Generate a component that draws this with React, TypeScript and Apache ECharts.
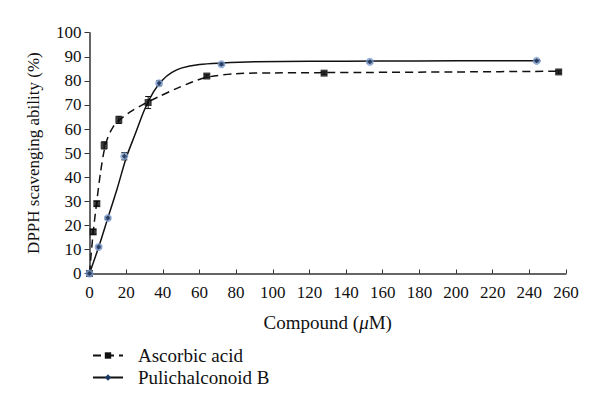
import React, { useEffect, useRef } from "react";
import * as echarts from "echarts";

const xTicks = [0, 20, 40, 60, 80, 100, 120, 140, 160, 180, 200, 220, 240, 260];

// measured points
const ascorbicX = [0, 2, 4, 8, 16, 32, 64, 128, 256];
const ascorbicY = [0, 17.3, 29, 53.2, 63.8, 71, 82, 83.2, 83.7];
const ascorbicErr = [0, 1, 1, 1.5, 1.5, 2.5, 0.5, 0.5, 0.5];

const puliX = [0, 5, 10, 19, 38, 72, 153, 244];
const puliY = [0, 11, 23, 48.7, 79, 86.9, 87.9, 88.3];
const puliErr = [0, 0.5, 0.5, 1.5, 1, 0.5, 0.5, 0.5];

// fitted curves
const ascorbicCurveX = [0, 2, 4, 6, 8, 10, 13, 16, 22, 30, 38, 48, 56, 64, 80, 100, 150, 200, 256];
const ascorbicCurveY = [0, 17, 30, 42, 51, 56.5, 61, 63.5, 67, 70.5, 73.5, 77, 79.5, 81.5, 83, 83.3, 83.5, 83.7, 84];

const puliCurveX = [0, 5, 10, 15, 20, 25, 30, 35, 40, 45, 50, 60, 72, 90, 120, 160, 200, 246];
const puliCurveY = [0, 11, 23, 35, 48, 58, 68, 75.5, 80.5, 83.5, 85.3, 86.8, 87.4, 87.9, 88.1, 88.2, 88.3, 88.4];

const FONT = "'Liberation Serif', 'Times New Roman', serif";

function errBarSeries(xs: number[], ys: number[], es: number[]) {
  return {
    type: "custom",
    silent: true,
    z: 3,
    data: xs.map((x, i) => [x, ys[i] - es[i], ys[i] + es[i]]),
    renderItem: (params: any, api: any) => {
      const lo = api.coord([api.value(0), api.value(1)]);
      const hi = api.coord([api.value(0), api.value(2)]);
      const cap = 3;
      const style = { stroke: "#111", lineWidth: 1 };
      return {
        type: "group",
        children: [
          { type: "line", shape: { x1: lo[0], y1: lo[1], x2: hi[0], y2: hi[1] }, style },
          { type: "line", shape: { x1: lo[0] - cap, y1: lo[1], x2: lo[0] + cap, y2: lo[1] }, style },
          { type: "line", shape: { x1: hi[0] - cap, y1: hi[1], x2: hi[0] + cap, y2: hi[1] }, style },
        ],
      };
    },
  };
}

export default function App() {
  const ref = useRef<HTMLDivElement>(null);
  useEffect(() => {
    if (!ref.current) return;
    const chart = echarts.init(ref.current, undefined, { renderer: "svg" });
    chart.setOption({
      animation: false,
      backgroundColor: "#fff",
      grid: { left: 89.5, right: 34, top: 32.7, bottom: 137.5 },
      legend: {
        data: ["Ascorbic acid", "Pulichalconoid B"],
        orient: "vertical",
        left: 87,
        top: 341,
        itemWidth: 30,
        itemHeight: 8,
        itemGap: 3,
        textStyle: { fontFamily: FONT, fontSize: 19, color: "#111", padding: [0, 0, 0, 10] },
      },
      xAxis: {
        type: "value",
        min: 0,
        max: 260,
        interval: 20,
        name: "Compound ({i|μ}M)",
        nameLocation: "middle",
        nameGap: 39,
        nameTextStyle: {
          fontFamily: FONT,
          fontSize: 19,
          color: "#111",
          rich: { i: { fontFamily: FONT, fontSize: 19, fontStyle: "italic", color: "#111" } },
        },
        axisLine: { lineStyle: { color: "#333", width: 1.5 } },
        axisTick: { inside: true, length: 4, lineStyle: { color: "#333" } },
        axisLabel: { fontFamily: FONT, fontSize: 17, color: "#111", margin: 10 },
        splitLine: { show: false },
      },
      yAxis: {
        type: "value",
        min: 0,
        max: 100,
        interval: 10,
        name: "DPPH scavenging ability (%)",
        nameLocation: "middle",
        nameGap: 48,
        nameTextStyle: { fontFamily: FONT, fontSize: 17, color: "#111" },
        axisLine: { show: true, lineStyle: { color: "#333", width: 1.5 } },
        axisTick: { show: true, length: 5, lineStyle: { color: "#333" } },
        axisLabel: { fontFamily: FONT, fontSize: 17, color: "#111", margin: 8 },
        splitLine: { show: false },
      },
      series: [
        {
          name: "Ascorbic acid",
          type: "line",
          smooth: 0.3,
          showSymbol: false,
          symbol: "rect",
          symbolSize: 6,
          itemStyle: { color: "#111" },
          lineStyle: { color: "#111", width: 1.5, type: [8, 5] },
          data: ascorbicCurveX.map((x, i) => [x, ascorbicCurveY[i]]),
          z: 2,
        },
        {
          name: "Pulichalconoid B",
          type: "line",
          smooth: 0.3,
          showSymbol: false,
          symbol: "diamond",
          symbolSize: 6,
          itemStyle: { color: "#1d3a66" },
          lineStyle: { color: "#111", width: 1.5 },
          data: puliCurveX.map((x, i) => [x, puliCurveY[i]]),
          z: 2,
        },
        errBarSeries(ascorbicX, ascorbicY, ascorbicErr),
        errBarSeries(puliX, puliY, puliErr),
        {
          name: "ascorbic-points",
          type: "scatter",
          symbol: "rect",
          symbolSize: 7,
          itemStyle: { color: "#0a0a0a" },
          data: ascorbicX.map((x, i) => [x, ascorbicY[i]]),
          z: 4,
        },
        {
          name: "puli-points",
          type: "scatter",
          symbol: "circle",
          symbolSize: 8,
          itemStyle: { color: "#7f9fd0" },
          data: puliX.map((x, i) => [x, puliY[i]]),
          z: 4,
        },
        {
          name: "puli-points-core",
          type: "scatter",
          symbol: "diamond",
          symbolSize: 5,
          itemStyle: { color: "#1a2a4a" },
          data: puliX.map((x, i) => [x, puliY[i]]),
          z: 5,
        },
      ],
    });
    return () => chart.dispose();
  }, []);
  return <div ref={ref} style={{ width: 600, height: 411, position: "absolute", left: 0, top: 0 }} />;
}
